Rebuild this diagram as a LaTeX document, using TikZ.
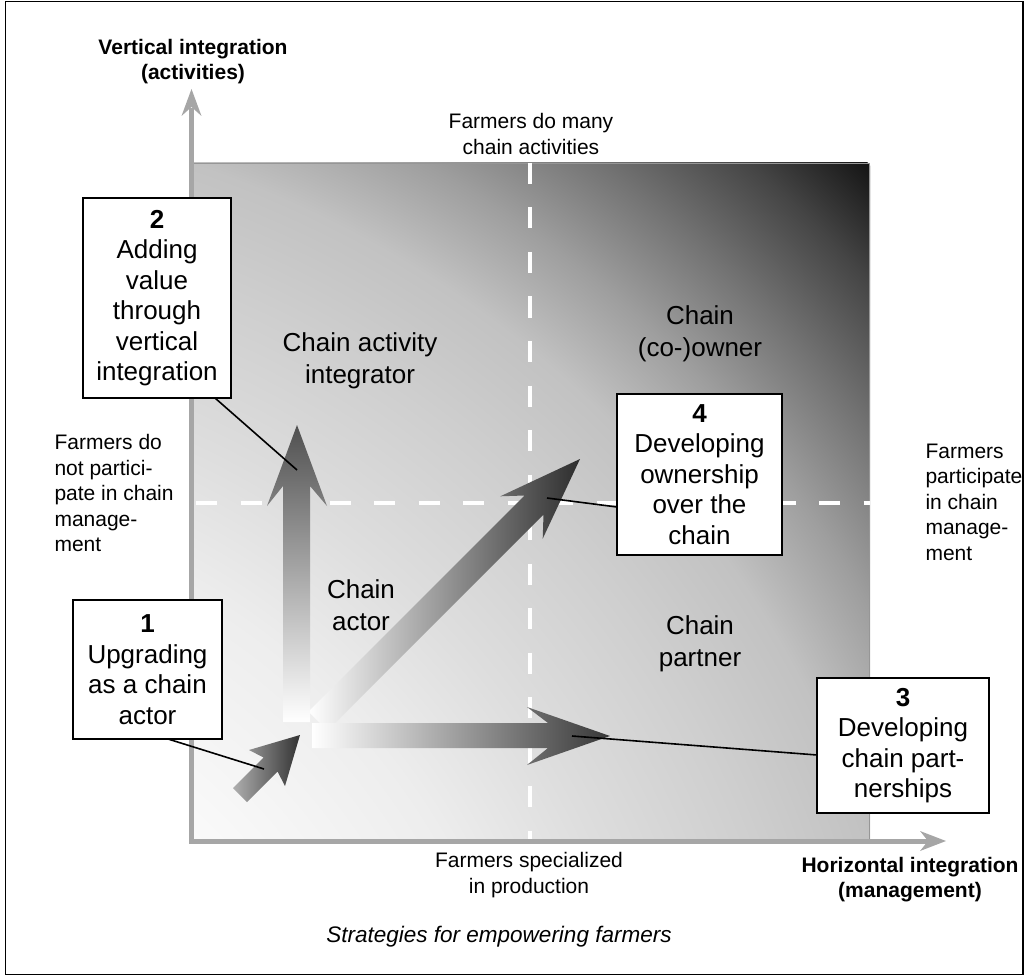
\documentclass[tikz,border=0pt]{standalone}
\usepackage{fontspec}
\setmainfont{Liberation Sans}
\usetikzlibrary{calc}

% background field: light in the lower left, darkening towards the upper right
\pgfdeclareradialshading{fieldshade}{\pgfpoint{0bp}{0bp}}{%
  rgb(0bp)=(1,1,1);
  rgb(8.33bp)=(0.98,0.98,0.98);
  rgb(11.78bp)=(0.93,0.93,0.93);
  rgb(14.02bp)=(0.87,0.87,0.87);
  rgb(16.66bp)=(0.81,0.81,0.81);
  rgb(18.62bp)=(0.76,0.76,0.76);
  rgb(20.27bp)=(0.62,0.62,0.62);
  rgb(21.92bp)=(0.45,0.45,0.45);
  rgb(23.57bp)=(0.27,0.27,0.27);
  rgb(25bp)=(0.08,0.08,0.08);
  rgb(50bp)=(0.08,0.08,0.08)}

\definecolor{axisgray}{RGB}{166,166,166}
\definecolor{edgegray}{RGB}{150,150,150}

\begin{document}
\begin{tikzpicture}[x=1pt,y=-1pt,
  callout/.style={draw=black, line width=1.3pt, fill=white, inner sep=0pt,
    align=center, font=\fontsize{26}{30.5}\selectfont},
  region/.style={align=center, font=\fontsize{26}{31.5}\selectfont},
  note/.style={align=center, font=\fontsize{21}{25.5}\selectfont},
  sidenote/.style={align=left, anchor=west, font=\fontsize{21}{25.5}\selectfont},
  axislabel/.style={align=center, font=\bfseries\fontsize{21}{25}\selectfont},
  leader/.style={draw=black, line width=1.6pt},
  dashline/.style={draw=white, line width=4.5pt, dash pattern=on 21pt off 23.5pt},
  axisline/.style={draw=axisgray, line width=5pt},
  axishead/.style={fill=axisgray},
  bigarrow/.style={draw=none}]

\useasboundingbox (0,0) rectangle (1025,976);
\draw[line width=1.2pt] (5.5,1.5) rectangle (1023,974.5);

% shaded field
\begin{scope}
  \clip (194,163) rectangle (870,839);
  \shade[shading=fieldshade] (-143.5,1176.5) circle (1432);
\end{scope}
\draw[edgegray, line width=1.5pt] (194,163.5) -- (869.5,163.5) -- (869.5,839);

% quadrant separators
\draw[dashline] (530,163) -- (530,839);
\draw[dashline] (196,503) -- (870,503);

% axes
\draw[axisline] (191.5,843) -- (191.5,108);
\fill[axishead] (181.5,116) -- (191.5,89) -- (201.5,116) -- (191.5,107) -- cycle;
\draw[axisline] (189,841) -- (930,841);
\fill[axishead] (920,831) -- (946,841) -- (920,851) -- (928,841) -- cycle;

% strategy arrows
\shade[bigarrow, shading angle=45, left color=white, right color={rgb,255:red,45;green,45;blue,45}]
  (308.5,711.5) -- (524.5,495.5) -- (500.3,496.3) -- (580,459)
  -- (542.7,538.7) -- (543.5,514.5) -- (327.5,730.5) -- cycle;
\shade[bigarrow, top color={rgb,255:red,80;green,80;blue,80}, bottom color=white]
  (283,722) -- (283,486) -- (267,506) -- (297,425) -- (327,506) -- (310,486) -- (310,722) -- cycle;
\shade[bigarrow, left color=white, right color={rgb,255:red,55;green,55;blue,55}]
  (312,723) -- (548,723) -- (527,707) -- (610,736) -- (527,765) -- (548,748) -- (312,748) -- cycle;
\shade[bigarrow, shading angle=45, left color={rgb,255:red,175;green,175;blue,175}, right color={rgb,255:red,50;green,50;blue,50}]
  (233,788) -- (263.5,757.5) -- (249,750) -- (300,735) -- (285,786) -- (277.5,771.5) -- (247,802) -- cycle;

% region names
\node[region] (ractivity) at (360,361) {Chain activity\\integrator};
\node[region] (rowner) at (700,334) {Chain\\(co-)owner};
\node[region] (ractor) at (361,605) {Chain\\actor};
\node[region] (rpartner) at (700,644) {Chain\\partner};

% axis and edge notes
\node[axislabel] (yname) at (193,62) {Vertical integration\\(activities)};
\node[axislabel] (xname) at (910,880) {Horizontal integration\\(management)};
\node[note] (ntop) at (531,134) {Farmers do many\\chain activities};
\node[note] (nbottom) at (529,875) {Farmers specialized\\in production};
\node[sidenote] (nleft) at (51,493) {Farmers do\\not partici-\\pate in chain\\manage-\\ment};
\node[sidenote] (nright) at (922,502) {Farmers\\participate\\in chain\\manage-\\ment};

% strategy boxes
\node[callout, minimum width=149pt, minimum height=139pt] (b1) at (147.5,669.5)
  {\textbf{1}\\Upgrading\\as a chain\\actor};
\node[callout, minimum width=148pt, minimum height=200pt] (b2) at (157,298)
  {\textbf{2}\\Adding\\value\\through\\vertical\\integration};
\node[callout, minimum width=172pt, minimum height=135pt] (b3) at (903,745.5)
  {\textbf{3}\\Developing\\chain part-\\nerships};
\node[callout, minimum width=165pt, minimum height=161pt] (b4) at (699.5,474.5)
  {\textbf{4}\\Developing\\ownership\\over the\\chain};

% leader lines from the boxes to their arrows
\coordinate (s1) at (168,739);   \coordinate (e1) at (264,769);
\coordinate (s2) at (215,398);   \coordinate (e2) at (297,470);
\coordinate (s3) at (817,755);   \coordinate (e3) at (572,736);
\coordinate (s4) at (617,507);   \coordinate (e4) at (547,498);
\draw[leader] (s1) -- (e1);
\draw[leader] (s2) -- (e2);
\draw[leader] (s3) -- (e3);
\draw[leader] (s4) -- (e4);

% caption
\node[font=\itshape\fontsize{22.5}{26}\selectfont] (caption) at (499,937)
  {Strategies for empowering farmers};
\end{tikzpicture}
\end{document}
